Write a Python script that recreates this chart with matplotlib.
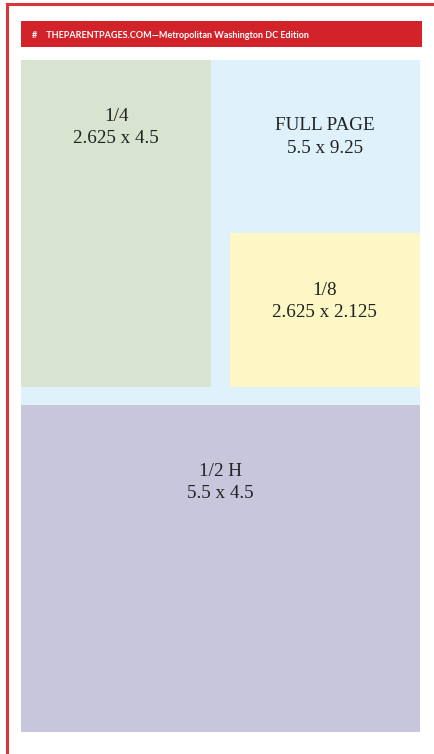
import matplotlib
matplotlib.use("Agg")
import matplotlib.pyplot as plt
from matplotlib.patches import Rectangle
from matplotlib.lines import Line2D

# ---- data: ad sizes (inches) ----
ad_names = ["FULL PAGE", "1/4", "1/8", "1/2 H"]
ad_widths = [5.5, 2.625, 2.625, 5.5]
ad_heights = [9.25, 4.5, 2.125, 4.5]
header_text = "#    THEPARENTPAGES.COM\u2014Metropolitan Washington DC Edition"

# ---- styles ----
colors = ["#DFF1FA", "#D8E4D0", "#FCF7C5", "#C8C6DC"]
red = "#D2232A"

W, H = 434, 754
fig = plt.figure(figsize=(W / 100, H / 100), dpi=100)
fig.patch.set_facecolor("white")

# page frame (red lines top and left)
fig.add_artist(Line2D([7 / W, 1], [1 - 3.5 / H, 1 - 3.5 / H], color="#D9363C", lw=2.2))
fig.add_artist(Line2D([7 / W, 7 / W], [0, 1 - 3.5 / H], color="#D9363C", lw=2.2))

# header bar
fig.add_artist(Rectangle((21 / W, 1 - 47 / H), 401 / W, 26 / H, color=red, lw=0))
fig.text(32.5 / W, 1 - 38 / H, header_text, color="white", fontsize=6.45,
         fontweight="bold", family="Lato", va="baseline", ha="left")

# ad layout axes in inches
pw, ph = ad_widths[0], ad_heights[0]
ax = fig.add_axes([21 / W, 1 - 732 / H, 399 / W, 672 / H])
ax.set_xlim(0, pw)
ax.set_ylim(ph, 0)
ax.axis("off")

# anchor positions derived from sizes
x0 = [0, 0, pw - ad_widths[2], 0]
y0 = [0, 0, ad_heights[1] - ad_heights[2], ph - ad_heights[3]]
# label anchor (x centre, first baseline offset in inches from top)
lx = [pw - ad_widths[2] / 2, ad_widths[1] / 2, pw - ad_widths[2] / 2, pw / 2]
ly = [0.965, 0.836, 0.855, 0.975]
gap = 0.31

for i, name in enumerate(ad_names):
    ax.add_patch(Rectangle((x0[i], y0[i]), ad_widths[i], ad_heights[i],
                           facecolor=colors[i], edgecolor="none"))
    size = f"{ad_widths[i]:g} x {ad_heights[i]:g}"
    ax.text(lx[i], y0[i] + ly[i], name, ha="center", va="baseline",
            family="Liberation Serif", fontsize=13.8, color="#222222")
    ax.text(lx[i], y0[i] + ly[i] + gap, size, ha="center", va="baseline",
            family="Liberation Serif", fontsize=13.8, color="#222222")

fig.savefig("out.png", dpi=100, facecolor="white")
